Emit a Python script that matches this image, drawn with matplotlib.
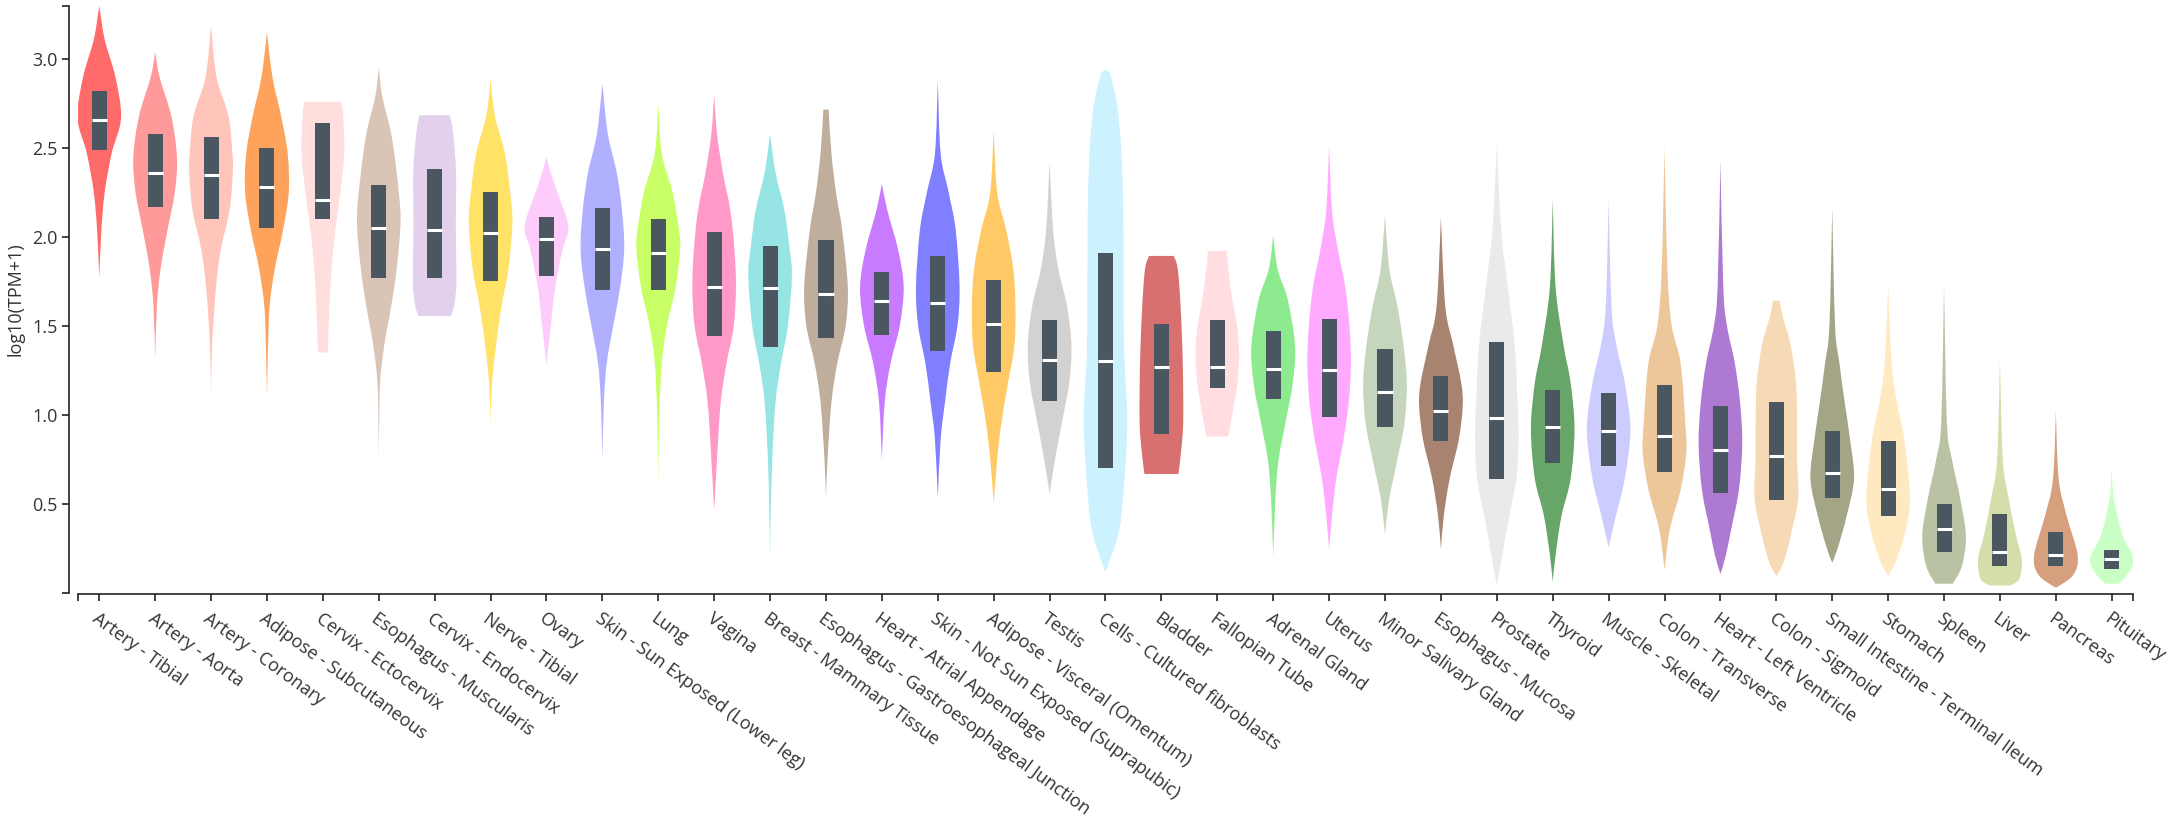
import numpy as np
import matplotlib.pyplot as plt
from matplotlib.path import Path
from matplotlib.patches import PathPatch

plt.rcParams['font.family'] = ['Open Sans', 'DejaVu Sans']

tissues = [
    'Artery - Tibial', 'Artery - Aorta', 'Artery - Coronary', 'Adipose - Subcutaneous',
    'Cervix - Ectocervix', 'Esophagus - Muscularis', 'Cervix - Endocervix', 'Nerve - Tibial',
    'Ovary', 'Skin - Sun Exposed (Lower leg)', 'Lung', 'Vagina', 'Breast - Mammary Tissue',
    'Esophagus - Gastroesophageal Junction', 'Heart - Atrial Appendage',
    'Skin - Not Sun Exposed (Suprapubic)', 'Adipose - Visceral (Omentum)', 'Testis',
    'Cells - Cultured fibroblasts', 'Bladder', 'Fallopian Tube', 'Adrenal Gland', 'Uterus',
    'Minor Salivary Gland', 'Esophagus - Mucosa', 'Prostate', 'Thyroid', 'Muscle - Skeletal',
    'Colon - Transverse', 'Heart - Left Ventricle', 'Colon - Sigmoid',
    'Small Intestine - Terminal Ileum', 'Stomach', 'Spleen', 'Liver', 'Pancreas', 'Pituitary',
]

colors = [
    '#ff6b6b', '#ff9a9a', '#ffc5bb', '#ffa35c', '#ffdede', '#d9c4b6', '#e2d0ec', '#ffe266',
    '#fdccfa', '#b0b0ff', '#c8ff66', '#ff99c8', '#97e4e4', '#bfae9c', '#c97bff', '#7f7fff',
    '#ffca66', '#d2d2d2', '#ccf2ff', '#d97070', '#ffdde0', '#8eea8e', '#ffaaff', '#c6d6bc',
    '#a88470', '#eaeaea', '#68a568', '#ccccff', '#edc79a', '#ae79d2', '#f6d9b5', '#a4a586',
    '#ffe9c0', '#b9c3a4', '#d5deaa', '#d6a07e', '#c9ffc4',
]

medians = [2.66, 2.36, 2.35, 2.28, 2.21, 2.05, 2.04, 2.02, 1.99, 1.93, 1.91, 1.72, 1.71,
           1.68, 1.64, 1.63, 1.51, 1.31, 1.30, 1.27, 1.27, 1.26, 1.25, 1.13, 1.02, 0.98,
           0.93, 0.91, 0.88, 0.80, 0.77, 0.67, 0.58, 0.36, 0.23, 0.21, 0.19]
q1 = [2.49, 2.17, 2.10, 2.05, 2.10, 1.77, 1.77, 1.75, 1.78, 1.70, 1.70, 1.44, 1.38,
      1.43, 1.45, 1.36, 1.24, 1.08, 0.70, 0.89, 1.15, 1.09, 0.99, 0.93, 0.85, 0.64,
      0.73, 0.71, 0.68, 0.56, 0.52, 0.53, 0.43, 0.23, 0.15, 0.15, 0.13]
q3 = [2.82, 2.58, 2.56, 2.50, 2.64, 2.29, 2.38, 2.25, 2.11, 2.16, 2.10, 2.03, 1.95,
      1.98, 1.80, 1.89, 1.76, 1.53, 1.91, 1.51, 1.53, 1.47, 1.54, 1.37, 1.22, 1.41,
      1.14, 1.12, 1.17, 1.05, 1.07, 0.91, 0.85, 0.50, 0.44, 0.34, 0.24]

# violin outlines: (log10(TPM+1), relative half width)
profiles = [
    [(1.77, 0), (2.04, 0.1), (2.25, 0.25), (2.47, 0.57), (2.67, 1.0), (2.90, 0.74), (3.11, 0.25), (3.30, 0)],
    [(1.31, 0), (1.61, 0.08), (1.82, 0.25), (2.04, 0.57), (2.25, 0.9), (2.45, 1.0), (2.68, 0.74), (2.90, 0.2), (3.04, 0)],
    [(1.08, 0), (1.39, 0.05), (1.72, 0.23), (1.93, 0.45), (2.15, 0.85), (2.36, 1.0), (2.47, 0.98), (2.68, 0.8), (2.90, 0.25), (3.19, 0)],
    [(1.10, 0), (1.39, 0.05), (1.61, 0.12), (1.82, 0.36), (2.04, 0.74), (2.25, 1.0), (2.47, 0.95), (2.68, 0.65), (2.90, 0.25), (3.15, 0)],
    [(1.35, 0.23), (1.61, 0.3), (1.82, 0.4), (2.04, 0.57), (2.25, 0.8), (2.47, 0.98), (2.68, 0.93), (2.76, 0.85)],
    [(0.76, 0), (0.96, 0.02), (1.18, 0.06), (1.39, 0.25), (1.61, 0.57), (1.82, 0.82), (2.10, 1.0), (2.36, 0.82), (2.58, 0.57), (2.79, 0.16), (2.95, 0)],
    [(1.555, 0.75), (1.62, 0.9), (1.75, 1.0), (2.04, 0.97), (2.36, 0.98), (2.58, 0.85), (2.684, 0.7)],
    [(0.95, 0), (1.18, 0.07), (1.39, 0.25), (1.61, 0.5), (1.82, 0.82), (2.08, 1.0), (2.25, 0.9), (2.47, 0.66), (2.68, 0.2), (2.89, 0)],
    [(1.28, 0), (1.50, 0.2), (1.72, 0.4), (1.93, 0.74), (2.06, 1.0), (2.25, 0.5), (2.36, 0.2), (2.45, 0)],
    [(0.75, 0), (1.07, 0.07), (1.29, 0.2), (1.50, 0.5), (1.72, 0.82), (1.93, 1.0), (2.15, 0.9), (2.36, 0.66), (2.58, 0.25), (2.86, 0)],
    [(0.58, 0), (0.96, 0.04), (1.29, 0.16), (1.50, 0.4), (1.72, 0.8), (1.93, 1.0), (2.04, 0.95), (2.25, 0.66), (2.47, 0.16), (2.75, 0)],
    [(0.46, 0), (0.75, 0.13), (1.07, 0.3), (1.29, 0.57), (1.50, 0.9), (1.72, 1.0), (1.93, 0.93), (2.15, 0.74), (2.36, 0.4), (2.58, 0.13), (2.80, 0)],
    [(0.19, 0), (0.43, 0.03), (0.75, 0.1), (1.07, 0.25), (1.29, 0.5), (1.50, 0.82), (1.78, 1.0), (1.93, 0.9), (2.15, 0.66), (2.36, 0.25), (2.58, 0)],
    [(0.53, 0), (0.75, 0.07), (1.07, 0.25), (1.29, 0.52), (1.50, 0.9), (1.72, 1.0), (2.04, 0.74), (2.25, 0.46), (2.47, 0.25), (2.716, 0.12)],
    [(0.75, 0), (1.07, 0.13), (1.29, 0.4), (1.50, 0.82), (1.72, 1.0), (1.93, 0.74), (2.15, 0.25), (2.30, 0)],
    [(0.53, 0), (0.86, 0.13), (1.07, 0.33), (1.29, 0.57), (1.50, 0.9), (1.72, 1.0), (2.04, 0.82), (2.25, 0.5), (2.47, 0.13), (2.88, 0)],
    [(0.50, 0), (0.75, 0.16), (0.96, 0.36), (1.18, 0.66), (1.39, 0.95), (1.61, 1.0), (1.82, 0.9), (2.04, 0.57), (2.25, 0.16), (2.60, 0)],
    [(0.555, 0), (0.75, 0.25), (0.96, 0.57), (1.18, 0.9), (1.39, 1.0), (1.61, 0.8), (1.82, 0.4), (2.04, 0.16), (2.42, 0)],
    [(0.115, 0), (0.32, 0.57), (0.53, 0.8), (0.96, 1.0), (1.39, 0.85), (2.25, 0.8), (2.68, 0.6), (2.90, 0.25), (2.94, 0)],
    [(0.667, 0.78), (0.79, 0.9), (0.96, 1.0), (1.29, 0.98), (1.61, 0.88), (1.82, 0.75), (1.893, 0.57)],
    [(0.878, 0.5), (1.01, 0.7), (1.18, 0.92), (1.35, 1.0), (1.50, 0.9), (1.72, 0.6), (1.921, 0.43)],
    [(0.20, 0), (0.53, 0.1), (0.75, 0.25), (0.96, 0.57), (1.18, 0.9), (1.39, 1.0), (1.65, 0.66), (1.82, 0.2), (2.01, 0)],
    [(0.24, 0), (0.43, 0.13), (0.64, 0.33), (0.86, 0.66), (1.07, 0.9), (1.29, 1.0), (1.50, 0.93), (1.72, 0.74), (1.93, 0.4), (2.15, 0.13), (2.52, 0)],
    [(0.33, 0), (0.53, 0.2), (0.75, 0.57), (0.96, 0.9), (1.18, 1.0), (1.39, 0.85), (1.61, 0.57), (1.82, 0.2), (2.125, 0)],
    [(0.244, 0), (0.43, 0.13), (0.64, 0.4), (0.86, 0.82), (1.05, 1.0), (1.18, 0.93), (1.39, 0.57), (1.61, 0.2), (2.11, 0)],
    [(0.04, 0), (0.21, 0.25), (0.43, 0.57), (0.64, 0.9), (0.86, 1.0), (1.07, 0.95), (1.39, 0.82), (1.72, 0.5), (2.04, 0.2), (2.52, 0)],
    [(0.06, 0), (0.21, 0.13), (0.43, 0.4), (0.64, 0.82), (0.92, 1.0), (1.18, 0.82), (1.39, 0.5), (1.72, 0.13), (2.21, 0)],
    [(0.254, 0), (0.43, 0.33), (0.64, 0.74), (0.92, 1.0), (1.18, 0.74), (1.39, 0.36), (1.61, 0.13), (2.21, 0)],
    [(0.125, 0), (0.36, 0.25), (0.58, 0.74), (0.79, 1.0), (0.96, 0.95), (1.29, 0.74), (1.50, 0.33), (1.82, 0.13), (2.51, 0)],
    [(0.104, 0), (0.21, 0.25), (0.36, 0.5), (0.58, 0.85), (0.835, 1.0), (1.07, 0.9), (1.29, 0.66), (1.50, 0.3), (1.72, 0.13), (2.43, 0)],
    [(0.093, 0), (0.17, 0.33), (0.32, 0.66), (0.53, 1.0), (0.75, 0.95), (0.96, 0.95), (1.18, 0.9), (1.39, 0.66), (1.55, 0.3), (1.641, 0.15)],
    [(0.168, 0), (0.25, 0.25), (0.43, 0.66), (0.64, 1.0), (0.86, 0.82), (1.07, 0.57), (1.29, 0.33), (1.50, 0.13), (2.16, 0)],
    [(0.093, 0), (0.17, 0.33), (0.32, 0.74), (0.53, 1.0), (0.86, 0.74), (1.07, 0.4), (1.29, 0.16), (1.72, 0)],
    [(0.05, 0.4), (0.15, 0.82), (0.32, 1.0), (0.53, 0.74), (0.75, 0.36), (0.96, 0.13), (1.73, 0)],
    [(0.04, 0.5), (0.08, 0.9), (0.19, 1.0), (0.32, 0.74), (0.53, 0.4), (0.75, 0.13), (1.31, 0)],
    [(0.03, 0.05), (0.10, 0.8), (0.21, 1.0), (0.43, 0.5), (0.64, 0.13), (1.02, 0)],
    [(0.05, 0.3), (0.10, 0.7), (0.19, 1.0), (0.32, 0.5), (0.53, 0.1), (0.70, 0)],
]

yticks = [0.5, 1.0, 1.5, 2.0, 2.5, 3.0]


def smooth_segments(pts):
    # cubic bezier control points so the outline passes through every read point
    verts = []
    n = len(pts)
    for j in range(n - 1):
        p0 = pts[max(j - 1, 0)]
        p1 = pts[j]
        p2 = pts[j + 1]
        p3 = pts[min(j + 2, n - 1)]
        c1 = p1 + (p2 - p0) / 6.0
        c2 = p2 - (p3 - p1) / 6.0
        verts += [c1, c2, p2]
    return verts


def violin_path(x, prof, half):
    ys = np.array([p[0] for p in prof])
    ws = np.array([p[1] for p in prof]) * half
    right = [np.array([x + w, y]) for y, w in zip(ys, ws)]
    left = [np.array([x - w, y]) for y, w in zip(ys[::-1], ws[::-1])]
    verts = [right[0]] + smooth_segments(right) + [left[0]] + smooth_segments(left) + [right[0]]
    codes = ([Path.MOVETO] + [Path.CURVE4] * (3 * (len(right) - 1)) + [Path.LINETO]
             + [Path.CURVE4] * (3 * (len(left) - 1)) + [Path.CLOSEPOLY])
    return Path(verts, codes)


W, H = 2173, 816
fig = plt.figure(figsize=(W / 100, H / 100), dpi=100)
ax = fig.add_axes([78 / W, (H - 592.6) / H, (2133 - 78) / W, (592.6 - 5.7) / H])

half_w = 0.39
box_w = 0.135
x = np.arange(len(tissues))

for i in range(len(tissues)):
    ax.add_patch(PathPatch(violin_path(x[i], profiles[i], half_w), facecolor=colors[i],
                           edgecolor='none', zorder=1))
    ax.bar(x[i], q3[i] - q1[i], bottom=q1[i], width=2 * box_w, color='#4b5760',
           linewidth=0, zorder=2)
    ax.plot([x[i] - box_w, x[i] + box_w], [medians[i], medians[i]], color='white',
            lw=2.2, solid_capstyle='butt', zorder=3)

ax.set_xlim(-0.38, len(tissues) - 1 + 0.38)
ax.set_ylim(0, 3.3)

for s in ['top', 'right']:
    ax.spines[s].set_visible(False)
ax.spines['left'].set_position(('outward', 6.5))
ax.spines['bottom'].set_position(('outward', 1.2))
for s in ['left', 'bottom']:
    ax.spines[s].set_linewidth(1.2)
    ax.spines[s].set_color('#222222')

ax.set_yticks(yticks)
ax.set_yticklabels(['%.1f' % v for v in yticks])
ax.set_yticks([0, 3.3], minor=True)
ax.set_xticks(x)
ax.set_xticks(ax.get_xlim(), minor=True)
ax.set_xticklabels(tissues, rotation=-36, ha='left', va='top', rotation_mode='anchor')
ax.tick_params(axis='both', which='both', length=5, width=1.2, color='#222222',
               labelsize=13, labelcolor='#333333', pad=3)
ax.tick_params(axis='x', which='major', pad=6)
ax.set_ylabel('log10(TPM+1)', fontsize=13, color='#333333', labelpad=6)

fig.savefig('out.png', dpi=100)
